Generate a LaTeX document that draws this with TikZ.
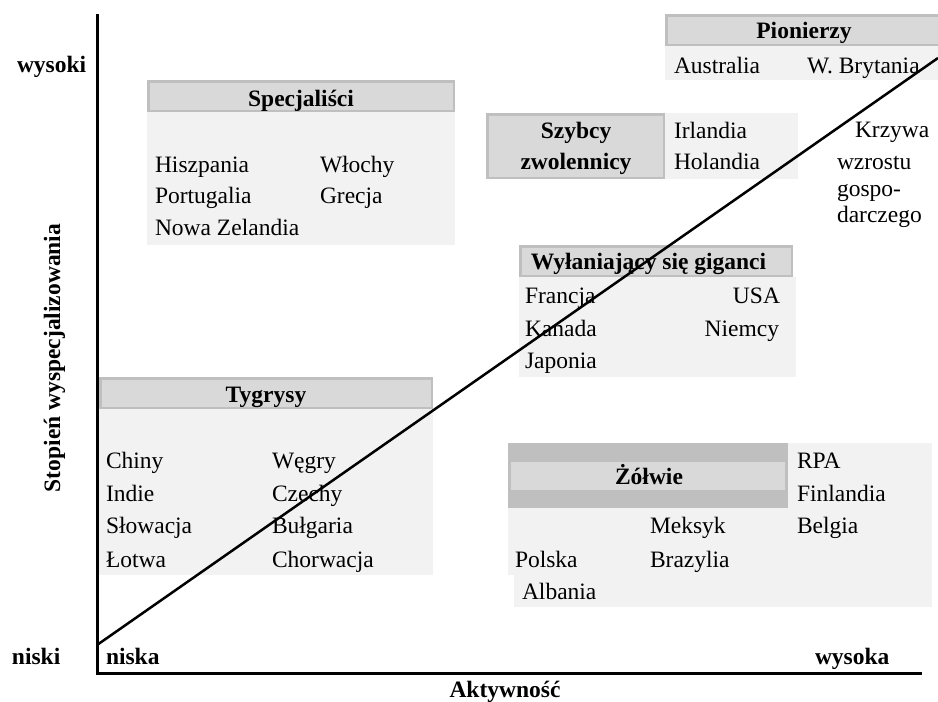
\documentclass[tikz,border=0pt]{standalone}
\usepackage{fontspec}
\setmainfont{Liberation Serif}
\definecolor{hdrfill}{HTML}{D9D9D9}
\definecolor{hdrborder}{HTML}{BFBFBF}
\definecolor{lightfill}{HTML}{F2F2F2}
\definecolor{darkfill}{HTML}{BFBFBF}
\newcommand\fsz{\fontsize{23.5}{28}\selectfont}
\tikzset{
  lightbox/.style={fill=lightfill},
  hdrbox/.style={draw=hdrborder, fill=hdrfill, line width=2.5pt},
  txt/.style={anchor=base west, inner sep=0pt, outer sep=0pt, font=\fsz},
  txtr/.style={anchor=base east, inner sep=0pt, outer sep=0pt, font=\fsz},
  htxt/.style={anchor=base, inner sep=0pt, outer sep=0pt, font=\fsz\bfseries},
  btxt/.style={anchor=base west, inner sep=0pt, outer sep=0pt, font=\fsz\bfseries},
  axisline/.style={line width=3pt},
  curve/.style={line width=2.5pt}
}
\begin{document}
\begin{tikzpicture}[x=1pt,y=-1pt]
\useasboundingbox (0,0) rectangle (938,702);

% Specjalisci
\fill[lightbox] (147,112) rectangle (455,245);
\draw[hdrbox] (148.25,81.25) rectangle (453.75,110.75);
\node[htxt] (spec) at (301,106) {Specjaliści};
\node[txt] (hisz) at (155,172) {Hiszpania};
\node[txt] (port) at (155,203.5) {Portugalia};
\node[txt] (nz) at (155,235) {Nowa Zelandia};
\node[txt] (wloch) at (320,172) {Włochy};
\node[txt] (grec) at (320,203.5) {Grecja};

% Pionierzy
\fill[lightbox] (665,46) rectangle (938,80);
\draw[hdrbox] (666.25,15.25) rectangle (940,44.75);
\node[htxt] (pion) at (804,38) {Pionierzy};
\node[txt] (austr) at (674,73) {Australia};
\node[txt] (wbr) at (807,73) {W. Brytania};

% Szybcy zwolennicy
\fill[lightbox] (665,113) rectangle (798,179);
\draw[hdrbox] (487.25,114.25) rectangle (663.75,177.75);
\node[htxt] (szyb1) at (576,138) {Szybcy};
\node[htxt] (szyb2) at (576,169) {zwolennicy};
\node[txt] (irl) at (674,138) {Irlandia};
\node[txt] (hol) at (674,169) {Holandia};

% Krzywa
\node[txt] (k1) at (855,137) {Krzywa};
\node[txt] (k2) at (837,169) {wzrostu};
\node[txt] (k3) at (837,196) {gospo-};
\node[txt] (k4) at (837,222) {darczego};

% Wylaniajacy sie giganci
\fill[lightbox] (519,277) rectangle (796,377);
\draw[hdrbox] (520.25,246.25) rectangle (791.75,275.75);
\node[htxt] (wyl) at (648.5,269) {Wyłaniający się giganci};
\node[txt] (fran) at (525,303) {Francja};
\node[txt] (kan) at (525,336) {Kanada};
\node[txt] (jap) at (525,368) {Japonia};
\node[txtr] (usa) at (780,303) {USA};
\node[txtr] (niem) at (779,336) {Niemcy};

% Tygrysy
\fill[lightbox] (99,409) rectangle (433,575);
\draw[hdrbox] (100.25,378.25) rectangle (431.75,407.75);
\node[htxt] (tyg) at (266,402) {Tygrysy};
\node[txt] (chin) at (106,468) {Chiny};
\node[txt] (ind) at (106,501) {Indie};
\node[txt] (slow) at (106,533) {Słowacja};
\node[txt] (lotw) at (106,567) {Łotwa};
\node[txt] (weg) at (272,468) {Węgry};
\node[txt] (cze) at (272,501) {Czechy};
\node[txt] (bul) at (272,533) {Bułgaria};
\node[txt] (chor) at (272,567) {Chorwacja};

% Zolwie
\fill[lightbox] (508,443) rectangle (932,575);
\fill[lightbox] (514,574) rectangle (932,607);
\fill[darkfill] (508,443) rectangle (788,508);
\fill[hdrfill] (511,462) rectangle (785,490);
\node[htxt] (zolw) at (649,484) {Żółwie};
\node[txt] (rpa) at (797,468) {RPA};
\node[txt] (fin) at (797,501) {Finlandia};
\node[txt] (belg) at (797,533) {Belgia};
\node[txt] (meks) at (650,533) {Meksyk};
\node[txt] (braz) at (650,567) {Brazylia};
\node[txt] (pol) at (515,567) {Polska};
\node[txt] (alb) at (522,599) {Albania};

% Axes
\coordinate (ytop) at (97.5,14);
\coordinate (orig) at (97.5,673);
\coordinate (xend) at (922,673);
\draw[axisline] (ytop) -- (orig) -- (xend);

% Growth line
\coordinate (c0) at (97,645);
\coordinate (c1) at (938,58);
\draw[curve] (c0) -- (c1);

% Axis labels
\node[btxt] (wysoki) at (17,72) {wysoki};
\node[btxt] (niski) at (12,664) {niski};
\node[btxt] (niska) at (106,664) {niska};
\node[btxt] (wysoka) at (815,664) {wysoka};
\node[htxt] (akt) at (505,697) {Aktywność};
\node[htxt, rotate=90] (stop) at (60,358) {Stopień wyspecjalizowania};
\end{tikzpicture}
\end{document}
